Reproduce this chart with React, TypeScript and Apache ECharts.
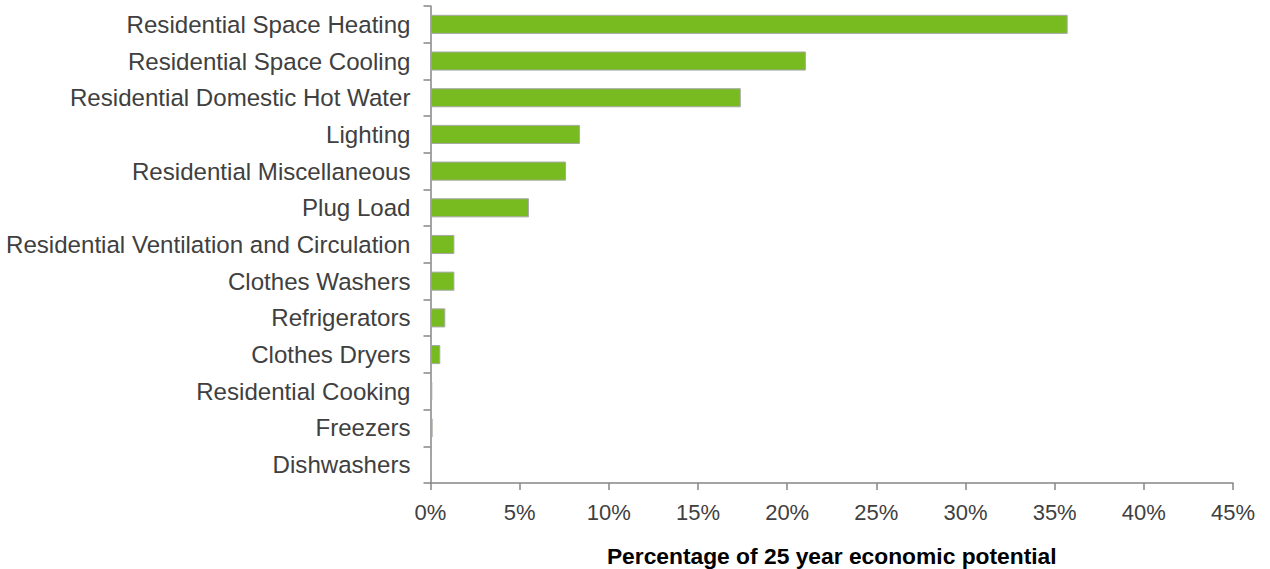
import React, { useEffect, useRef } from "react";
import * as echarts from "echarts";

const categories = [
  "Residential Space Heating",
  "Residential Space Cooling",
  "Residential Domestic Hot Water",
  "Lighting",
  "Residential Miscellaneous",
  "Plug Load",
  "Residential Ventilation and Circulation",
  "Clothes Washers",
  "Refrigerators",
  "Clothes Dryers",
  "Residential Cooking",
  "Freezers",
  "Dishwashers",
];
const values = [35.73, 21.05, 17.4, 8.38, 7.6, 5.52, 1.34, 1.34, 0.83, 0.55, 0.1, 0.12, 0];
const xTicks = [0, 5, 10, 15, 20, 25, 30, 35, 40, 45];
const axisTitle = "Percentage of 25 year economic potential";

export default function App() {
  const ref = useRef<HTMLDivElement>(null);
  useEffect(() => {
    if (!ref.current) return;
    const chart = echarts.init(ref.current, undefined, { renderer: "svg" });
    const axisColor = "#868686";
    const font = "Liberation Sans, Arial, sans-serif";
    chart.setOption({
      animation: false,
      grid: {
        left: 430.5,
        right: 37,
        top: 6,
        bottom: 86,
        containLabel: false,
        outerBoundsMode: "none",
      },
      xAxis: {
        type: "value",
        min: xTicks[0],
        max: xTicks[xTicks.length - 1],
        interval: 5,
        splitLine: { show: false },
        axisLine: { show: true, lineStyle: { color: axisColor, width: 1.5 } },
        axisTick: { show: true, length: 7, lineStyle: { color: axisColor, width: 1.5 } },
        axisLabel: {
          formatter: (v: number) => v + "%",
          fontFamily: font,
          fontSize: 22,
          color: "#404040",
          margin: 18,
        },
        name: axisTitle,
        nameLocation: "middle",
        nameGap: 61,
        nameTextStyle: {
          fontFamily: font,
          fontSize: 22.8,
          fontWeight: "bold",
          color: "#000000",
        },
      },
      yAxis: {
        type: "category",
        data: categories,
        inverse: true,
        axisLine: { show: true, lineStyle: { color: axisColor, width: 1.5 } },
        axisTick: { show: true, length: 7, lineStyle: { color: axisColor, width: 1.5 } },
        axisLabel: {
          fontFamily: font,
          fontSize: 24.1,
          color: "#404040",
          margin: 20,
        },
      },
      series: [
        {
          type: "bar",
          data: values,
          barCategoryGap: "48%",
          itemStyle: { color: "#77bb20", borderColor: "#a8a8a8", borderWidth: 1 },
        },
      ],
    });
    return () => chart.dispose();
  }, []);
  return (
    <div
      ref={ref}
      style={{ position: "absolute", left: 0, top: 0, width: 1270, height: 569 }}
    />
  );
}
